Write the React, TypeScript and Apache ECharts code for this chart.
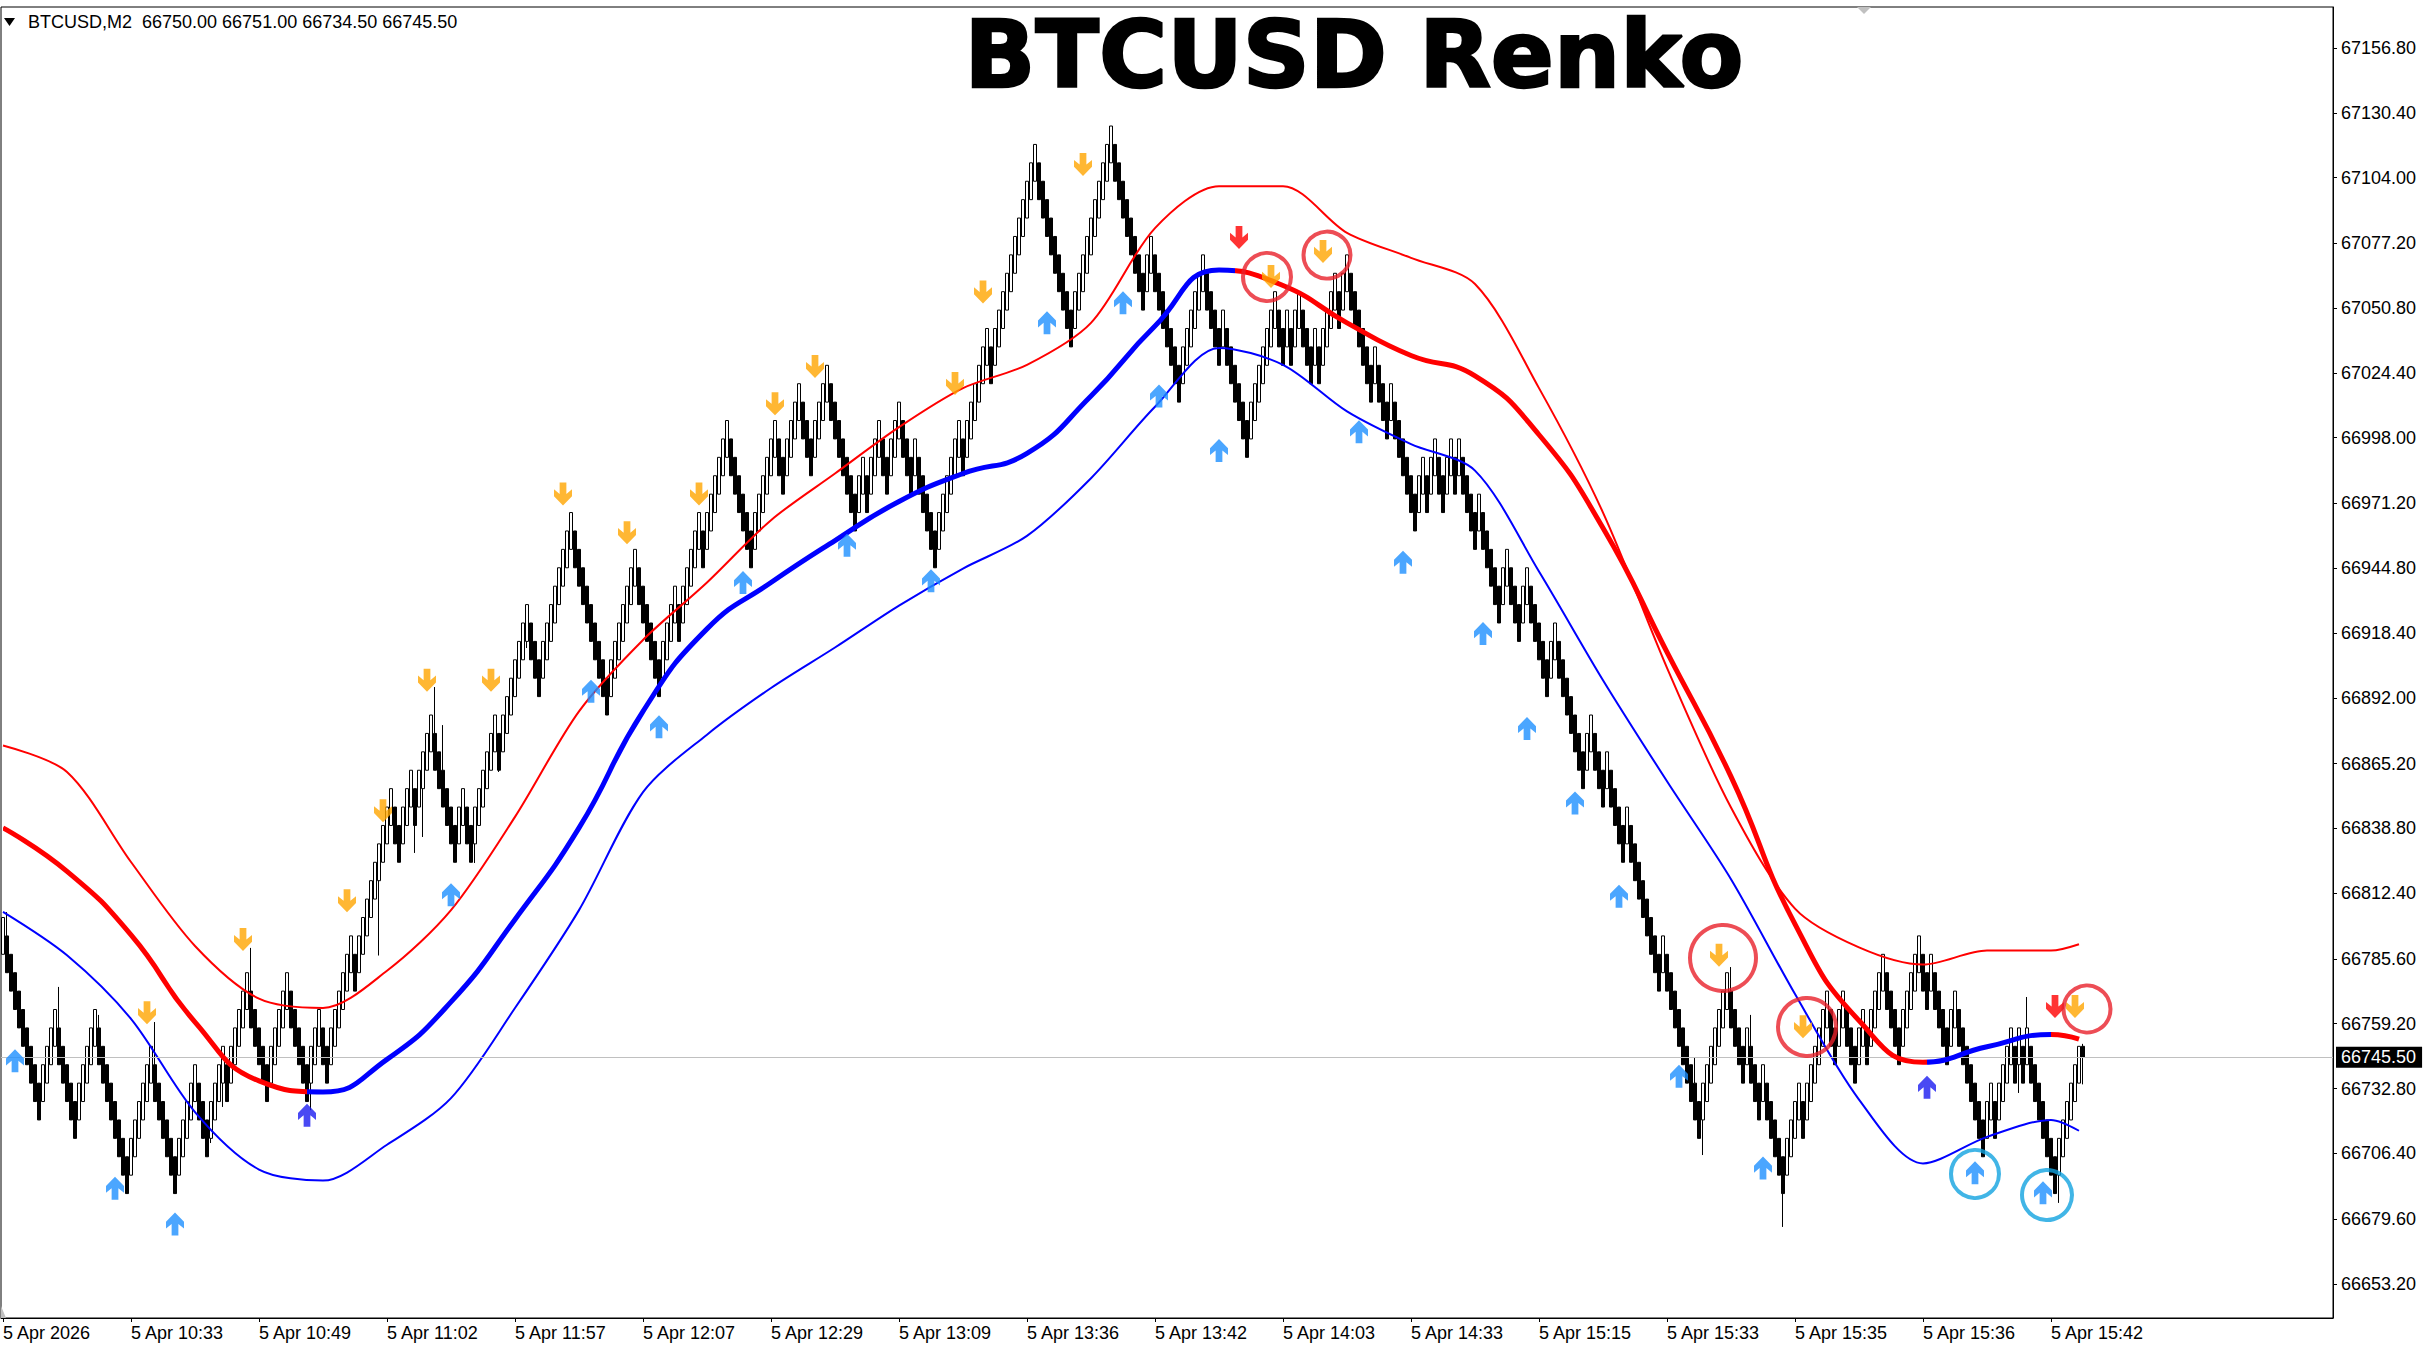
import React, { useEffect, useRef } from 'react';
import * as echarts from 'echarts';

// ---------- DATA ----------
const symbolName = 'BTCUSD,M2';
const chartTitle = 'BTCUSD Renko';
// last bar (header): open, close, low, high
const lastBar = [66750.0, 66745.5, 66734.5, 66751.0];

// renko bricks: base price, brick step, mid-level of first brick, then signed runs of one-step moves
const BASE = 66690;
const STEP = 7.5;
const START_MID = 14;
const brickRuns = [
  -9, 4, -5, 5, -8, 6, -6, 5, -3, 4, -1, 5, -5, 5, -5, 3, -2, 6, -1, 9, -2, 3, -1, 4, -6, 2, -2,
  6, -1, 7, -3, 8, -9, 7, -6, 4, -1, 5, -1, 6, -6, 6, -2, 4, -3, 4, -7, 2, -1, 3, -2, 3, -3, 1, -5,
  6, -1, 6, -1, 11, -9, 10, -8, 2, -7, 6, -4, 1, -6, 7, -2, 1, -1, 2, -3, 1, -1, 4, -1, 2,
  -6, 1, -3, 1, -6, 2, -1, 2, -2, 2, -1, 1, -4, 1, -5, 2, -3, 2, -5, 2, -7, 2, -3, 1, -4, 1, -8, 1,
  -9, 7, -4, 1, -3, 1, -5, 4, -1, 6, -2, 2, -3, 2, -1, 4, -4, 5, -2, 1, -4, 2, -7, 2, -1, 4, -1, 1,
  -1, 1, -7, 6,
];
const wickHigh = [
  [1, 66804.7], [14, 66774.2], [24, 66762.8], [38, 66759.9], [62, 66790.1], [108, 66896.4],
  [110, 66880.9], [276, 67114.0], [278, 67114.0], [336, 67071.6], [412, 66800.2], [423, 66745.6],
  [432, 66782.3], [437, 66762.8], [506, 66770.1],
];
const wickLow = [
  [52, 66710.6], [55, 66725.3], [77, 66724.0], [94, 66787.0], [103, 66828.8], [105, 66835.3],
  [118, 66824.7], [124, 66861.8], [131, 66912.3], [425, 66705.7], [445, 66676.4], [504, 66731.0],
  [514, 66686.2], [515, 66704.9],
];

// indicator lines, sampled at these bar indices
const lineIdx = [0, 16, 32, 48, 64, 80, 96, 112, 128, 144, 160, 176, 192, 208, 224, 240, 256, 272, 288, 304, 320, 336, 352, 368, 384, 400, 416, 432, 448, 464, 480, 496, 512, 519];
const midLine = [66839.0, 66821.3, 66795.4, 66759.9, 66735.9, 66731.4, 66744.7, 66768.1, 66801.7, 66839.0, 66886.5, 66920.1, 66939.0, 66956.1, 66972.0, 66983.4, 66991.6, 67015.0, 67043.5, 67066.3, 67060.0, 67044.8, 67031.5, 67023.2, 66999.2, 66961.2, 66910.6, 66859.9, 66799.8, 66760.5, 66743.5, 66749.8, 66754.8, 66752.9];
const upperBand = [66872.6, 66861.8, 66825.1, 66790.9, 66769.4, 66765.6, 66780.8, 66805.5, 66843.5, 66886.5, 66915.6, 66939.0, 66964.4, 66983.4, 67002.3, 67018.2, 67027.7, 67044.8, 67083.4, 67100.5, 67100.5, 67081.5, 67071.3, 67060.6, 67018.2, 66967.5, 66904.2, 66847.3, 66806.1, 66790.3, 66783.3, 66789.0, 66789.0, 66791.6];
const lowerBand = [66804.8, 66787.1, 66761.2, 66723.2, 66699.8, 66695.3, 66709.9, 66728.9, 66765.6, 66805.5, 66853.6, 66877.0, 66896.0, 66912.5, 66929.6, 66944.7, 66958.0, 66981.5, 67010.6, 67034.6, 67027.7, 67008.7, 66995.4, 66984.6, 66943.5, 66899.2, 66858.0, 66818.1, 66771.3, 66728.3, 66702.3, 66713.1, 66720.0, 66715.6];
// bar index where the midline changes trend colour
const trendSwitches = [[0, 'down'], [76, 'up'], [308, 'down'], [481, 'up'], [512, 'down']];

// signal arrows [barIndex, price]
const orangeDown = [[36, 66763.7], [60, 66793.5], [86, 66809.3], [95, 66846.0], [106, 66899.2], [122, 66899.2], [140, 66975.1], [156, 66959.3], [174, 66975.1], [193, 67011.8], [203, 67027.0], [238, 67020.1], [245, 67057.4], [270, 67109.3], [317, 67063.7], [330, 67073.9], [429, 66787.1], [450, 66758.0], [518, 66766.2]];
const blueUp = [[3, 66744.1], [28, 66692.2], [43, 66677.6], [112, 66811.8], [147, 66894.7], [164, 66880.2], [185, 66939.0], [211, 66954.2], [232, 66939.7], [261, 67044.8], [280, 67053.0], [289, 67015.0], [304, 66992.8], [339, 67000.4], [350, 66947.3], [370, 66918.2], [381, 66879.5], [393, 66849.2], [404, 66811.2], [419, 66737.8], [440, 66700.4], [493, 66698.5], [510, 66690.3]];
const navyUp = [[76, 66721.9], [481, 66733.3]];
const redDown = [[309, 67079.6], [513, 66766.2]];
// annotation circles [barIndex, price, diameter]
const redCircles = [[316, 67063.5, 48], [331, 67072.4, 47], [430, 66786.0, 66], [451, 66757.9, 58], [521, 66765.2, 47]];
const cyanCircles = [[493, 66698.0, 48], [511, 66689.4, 50]];

// axes
const timeLabels = ['5 Apr 2026', '5 Apr 10:33', '5 Apr 10:49', '5 Apr 11:02', '5 Apr 11:57', '5 Apr 12:07', '5 Apr 12:29', '5 Apr 13:09', '5 Apr 13:36', '5 Apr 13:42', '5 Apr 14:03', '5 Apr 14:33', '5 Apr 15:15', '5 Apr 15:33', '5 Apr 15:35', '5 Apr 15:36', '5 Apr 15:42'];
const LABEL_EVERY = 32;
const CATEGORY_COUNT = 583;
const priceTicks = [67156.8, 67130.4, 67104.0, 67077.2, 67050.8, 67024.4, 66998.0, 66971.2, 66944.8, 66918.4, 66892.0, 66865.2, 66838.8, 66812.4, 66785.6, 66759.2, 66732.8, 66706.4, 66679.6, 66653.2];
const Y_MIN = 66639.3;
const Y_MAX = 67173.5;

// ---------- BUILD ----------
function makeBar(mid: number, dir: number) {
  const lo = BASE + (mid - 1) * STEP;
  const hi = BASE + (mid + 1) * STEP;
  return dir > 0 ? [lo, hi, lo, hi] : [hi, lo, lo, hi];
}
function buildCandles() {
  const out: number[][] = [];
  let m = START_MID;
  out.push(makeBar(m, 1));
  for (const r of brickRuns) {
    const dir = Math.sign(r);
    for (let k = 0; k < Math.abs(r); k++) {
      m += dir;
      out.push(makeBar(m, dir));
    }
  }
  for (const [i, p] of wickHigh) if (out[i]) out[i][3] = Math.max(out[i][3], p);
  for (const [i, p] of wickLow) if (out[i]) out[i][2] = Math.min(out[i][2], p);
  out.push([lastBar[0], lastBar[1], lastBar[2], lastBar[3]]);
  return out;
}

const RED = '#ff0000';
const BLUE = '#0000ff';
const FONT = 'Liberation Sans';
const DOWN_ARROW = 'path://M6,0 L12,0 L12,10 L17,6 L17,12 L9,20 L1,12 L1,6 L6,10 Z';
const UP_ARROW = 'path://M6,20 L12,20 L12,10 L17,14 L17,8 L9,0 L1,8 L1,14 L6,10 Z';

function buildOption() {
  const candles = buildCandles();
  const cats: string[] = [];
  for (let i = 0; i < CATEGORY_COUNT; i++) {
    cats.push(i % LABEL_EVERY === 0 && i / LABEL_EVERY < timeLabels.length ? timeLabels[i / LABEL_EVERY] : '');
  }
  const showIdx = (i: number) => i % LABEL_EVERY === 0 && i / LABEL_EVERY < timeLabels.length;
  const pair = (vals: number[]) => lineIdx.map((x, k) => [x, vals[k]]);
  const pieces = trendSwitches.map(([start, t], k) => {
    const next = trendSwitches[k + 1];
    const p: any = { gte: start as number, color: t === 'up' ? BLUE : RED };
    if (next) p.lt = next[0] as number;
    return p;
  });
  const arrow = (data: number[][], symbol: string, color: string) => ({
    type: 'scatter',
    data,
    symbol,
    symbolSize: [18, 23],
    itemStyle: { color },
    z: 6,
    silent: true,
  });
  const circles = (data: number[][], color: string) => ({
    type: 'scatter',
    data: data.map((d) => ({ value: [d[0], d[1]], symbolSize: d[2] })),
    symbol: 'circle',
    itemStyle: { color: 'rgba(0,0,0,0)', borderColor: color, borderWidth: 4 },
    z: 7,
    silent: true,
  });
  const [o, c, l, h] = lastBar;
  return {
    animation: false,
    backgroundColor: '#ffffff',
    grid: { left: 1, right: 102, top: 7, bottom: 30, show: true, borderColor: '#000', borderWidth: 1, backgroundColor: '#fff' },
    xAxis: {
      type: 'category',
      data: cats,
      boundaryGap: true,
      axisLine: { show: true, lineStyle: { color: '#000', width: 1 } },
      axisTick: { show: true, interval: showIdx, alignWithLabel: true, length: 4, lineStyle: { color: '#000' } },
      axisLabel: { interval: showIdx, align: 'left', color: '#000', fontFamily: FONT, fontSize: 18, margin: 6 },
      splitLine: { show: false },
    },
    yAxis: {
      type: 'value',
      position: 'right',
      min: Y_MIN,
      max: Y_MAX,
      splitLine: { show: false },
      axisLine: { show: true, lineStyle: { color: '#000', width: 1 } },
      axisTick: { show: true, customValues: priceTicks, length: 4, lineStyle: { color: '#000' } },
      axisLabel: {
        customValues: priceTicks,
        formatter: (v: number) => v.toFixed(2),
        color: '#000',
        fontFamily: FONT,
        fontSize: 18,
        margin: 8,
      },
    },
    visualMap: { show: false, type: 'piecewise', seriesIndex: 3, dimension: 0, pieces },
    series: [
      {
        type: 'candlestick',
        data: candles,
        barWidth: 3,
        itemStyle: { color: '#ffffff', color0: '#000000', borderColor: '#000000', borderColor0: '#000000', borderWidth: 1 },
        z: 2,
        markLine: {
          symbol: 'none',
          silent: true,
          data: [{ yAxis: c }],
          lineStyle: { color: '#c0c0c0', width: 1, type: 'solid' },
          label: {
            position: 'end',
            formatter: c.toFixed(2),
            backgroundColor: '#000',
            color: '#fff',
            fontFamily: FONT,
            fontSize: 18,
            padding: [2, 6, 1, 5],
            distance: 3,
          },
        },
      },
      { type: 'line', data: pair(upperBand), smooth: 0.3, symbol: 'none', lineStyle: { color: RED, width: 2 }, z: 4, silent: true },
      { type: 'line', data: pair(lowerBand), smooth: 0.3, symbol: 'none', lineStyle: { color: BLUE, width: 2 }, z: 4, silent: true },
      { type: 'line', data: pair(midLine), smooth: true, symbol: 'none', lineStyle: { width: 5 }, z: 5, silent: true },
      arrow(orangeDown, DOWN_ARROW, '#ffa500'),
      arrow(blueUp, UP_ARROW, '#1e90ff'),
      arrow(navyUp, UP_ARROW, '#1c1cf0'),
      arrow(redDown, DOWN_ARROW, '#ff0000'),
      circles(redCircles, '#e8202a'),
      circles(cyanCircles, '#12a3e0'),
    ],
    graphic: [
      {
        type: 'text',
        x: 1354,
        y: 55,
        z: 100,
        style: {
          text: chartTitle,
          font: 'bold 93px "DejaVu Sans"',
          fill: '#000',
          stroke: '#000',
          lineWidth: 2.5,
          align: 'center',
          verticalAlign: 'middle',
          textAlign: 'center',
          textVerticalAlign: 'middle',
        },
      },
      {
        type: 'text',
        x: 28,
        y: 22,
        z: 100,
        style: {
          text: `${symbolName}  ${o.toFixed(2)} ${h.toFixed(2)} ${l.toFixed(2)} ${c.toFixed(2)}`,
          font: `18px "${FONT}"`,
          fill: '#000',
          align: 'left',
          verticalAlign: 'middle',
          textAlign: 'left',
          textVerticalAlign: 'middle',
        },
      },
      { type: 'polygon', z: 100, shape: { points: [[4, 18], [15, 18], [9.5, 26]] }, style: { fill: '#000' } },
      { type: 'polygon', z: 100, shape: { points: [[1857, 7], [1871, 7], [1864, 14]] }, style: { fill: '#c0c0c0' } },
      { type: 'polygon', z: 100, shape: { points: [[1, 1306], [1, 1318], [6, 1318]] }, style: { fill: '#c0c0c0' } },
    ],
  };
}

export default function App() {
  const ref = useRef<HTMLDivElement>(null);
  useEffect(() => {
    document.body.style.margin = '0';
    const chart = echarts.init(ref.current as HTMLDivElement, null, { renderer: 'svg' });
    chart.setOption(buildOption() as any);
    return () => chart.dispose();
  }, []);
  return <div ref={ref} style={{ width: 2435, height: 1348, background: '#fff' }} />;
}
